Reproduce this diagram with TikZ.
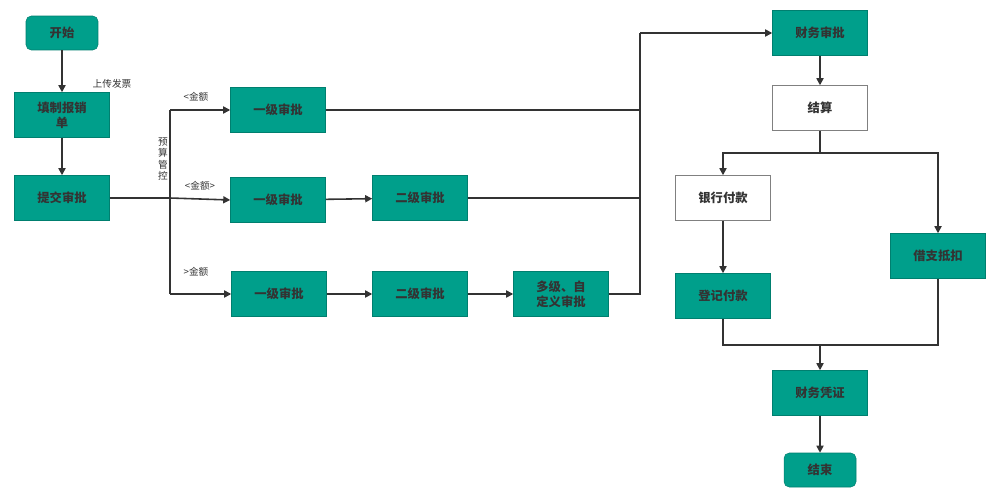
\documentclass[tikz,border=0pt]{standalone}
\usepackage{fontspec}
\setmainfont{Noto Sans CJK SC}
\usetikzlibrary{arrows.meta}
\definecolor{teal1}{HTML}{009F8B}
\definecolor{txt}{HTML}{333333}
\begin{document}
\begin{tikzpicture}[x=0.02cm,y=-0.02cm,
 box/.style={draw=teal1!80!black,line width=0.3pt,fill=teal1,minimum width=1.9cm,minimum height=0.9cm,inner sep=1pt,align=center,font=\fontsize{7}{8.5}\selectfont\bfseries,text=txt},
 wbox/.style={box,fill=white,draw=gray},
 rbox/.style={box,rounded corners=3pt,minimum width=1.44cm,minimum height=0.68cm},
 ln/.style={draw=txt,line width=0.9pt},
 ar/.style={ln,-{Triangle[length=4pt,width=4pt]}},
 lab/.style={font=\fontsize{5.5}{6.5}\selectfont,text=txt,inner sep=0pt}]
\useasboundingbox (0,0) rectangle (1000,500);
\node[rbox] (s) at (62,33) {开始};
\node[box] (f) at (62,115) {填制报销\\单};
\node[box] (sub) at (62,198) {提交审批};
\node[box] (a1) at (278,110) {一级审批};
\node[box] (b1) at (278,200) {一级审批};
\node[box] (b2) at (420,198) {二级审批};
\node[box] (c1) at (279,294) {一级审批};
\node[box] (c2) at (420,294) {二级审批};
\node[box] (c3) at (561,294) {多级、自\\定义审批};
\node[box] (fa) at (820,33) {财务审批};
\node[wbox] (js) at (820,108) {结算};
\node[wbox] (bank) at (723,198) {银行付款};
\node[box] (reg) at (723,296) {登记付款};
\node[box] (jz) at (938,256) {借支抵扣};
\node[box] (pz) at (820,393) {财务凭证};
\node[rbox] (end) at (820,470) {结束};
\coordinate (j) at (170,198);
\coordinate (m) at (640,33);
\draw[ar] (s) -- (f);
\draw[ar] (f) -- (sub);
\node[lab] at (112,84) {上传发票};
\draw[ln] (sub.east) -- (j);
\draw[ln] (170,110) -- (170,294);
\draw[ar] (170,110) -- (a1.west);
\draw[ar] (j) -- (b1.west);
\draw[ar] (170,294) -- (c1.west);
\node[lab] at (196,97) {<金额};
\node[lab] at (200,186) {<金额>};
\node[lab] at (196,272) {>金额};
\node[lab,align=center,font=\fontsize{5.5}{6.3}\selectfont] at (163,159) {预\\算\\管\\控};
\draw[ar] (b1) -- (b2);
\draw[ar] (c1) -- (c2);
\draw[ar] (c2) -- (c3);
\draw[ln] (a1.east) -- (640,110);
\draw[ln] (b2.east) -- (640,198);
\draw[ln] (c3.east) -- (640,294) -- (m);
\draw[ar] (m) -- (fa.west);
\draw[ar] (fa) -- (js);
\draw[ln] (js.south) -- (820,153);
\draw[ar] (820,153) -| (bank.north);
\draw[ar] (820,153) -| (jz.north);
\draw[ar] (bank) -- (reg);
\draw[ln] (reg.south) |- (820,345);
\draw[ln] (jz.south) |- (820,345);
\draw[ar] (820,345) -- (pz.north);
\draw[ar] (pz) -- (end);
\end{tikzpicture}
\end{document}
